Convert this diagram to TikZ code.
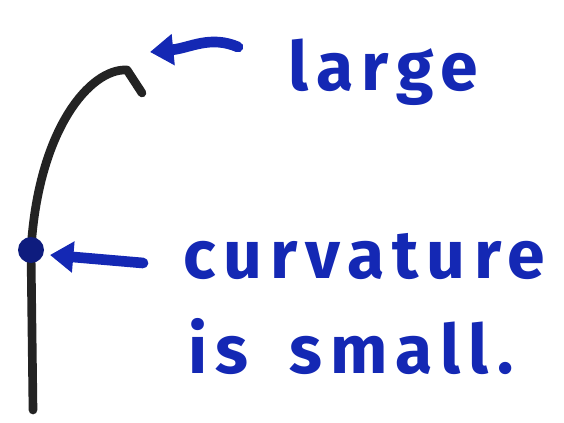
\documentclass[tikz,border=0pt]{standalone}
\usepackage{fontspec}
\setmainfont{Fira Sans}
\usepackage{tikz}
\usetikzlibrary{arrows.meta}

\definecolor{ink}{RGB}{20,40,180}
\definecolor{pen}{RGB}{35,35,35}

\begin{document}
\begin{tikzpicture}[
  x=0.03cm, y=-0.03cm,
  label/.style={text=ink, font=\fontsize{58}{64}\selectfont\bfseries\addfontfeature{LetterSpace=12},
                inner sep=0pt, anchor=west},
  curve/.style={pen, line width=2.6mm, line cap=round, line join=round},
  arr/.style={ink, line width=3.2mm, line cap=round, -{Triangle[length=7mm, width=9mm]}}
]
\useasboundingbox (0,0) rectangle (564,423);
% the curve
\coordinate (base) at (33,410);
\coordinate (mid)  at (31,250);
\coordinate (top)  at (127,70);
\coordinate (tip)  at (142,93);
\draw[curve] (base) .. controls (32,330) .. (mid)
  .. controls (38,130) and (90,68) .. (top) -- (tip);
\fill[ink!70!black] (mid) circle (13);
% labels
\node[label] (large) at (288,72) {large};
\node[label] (curv)  at (183,257) {curvature};
\node[label] (small) at (188,347) {is\hspace{0.6em}small.};
% pointers
\coordinate (t1) at (238,47);
\coordinate (h1) at (150,52);
\coordinate (t2) at (143,263);
\coordinate (h2) at (50,255);
\draw[arr] (t1) .. controls (210,35) and (190,48) .. (h1);
\draw[arr] (t2) -- (h2);
\end{tikzpicture}
\end{document}
